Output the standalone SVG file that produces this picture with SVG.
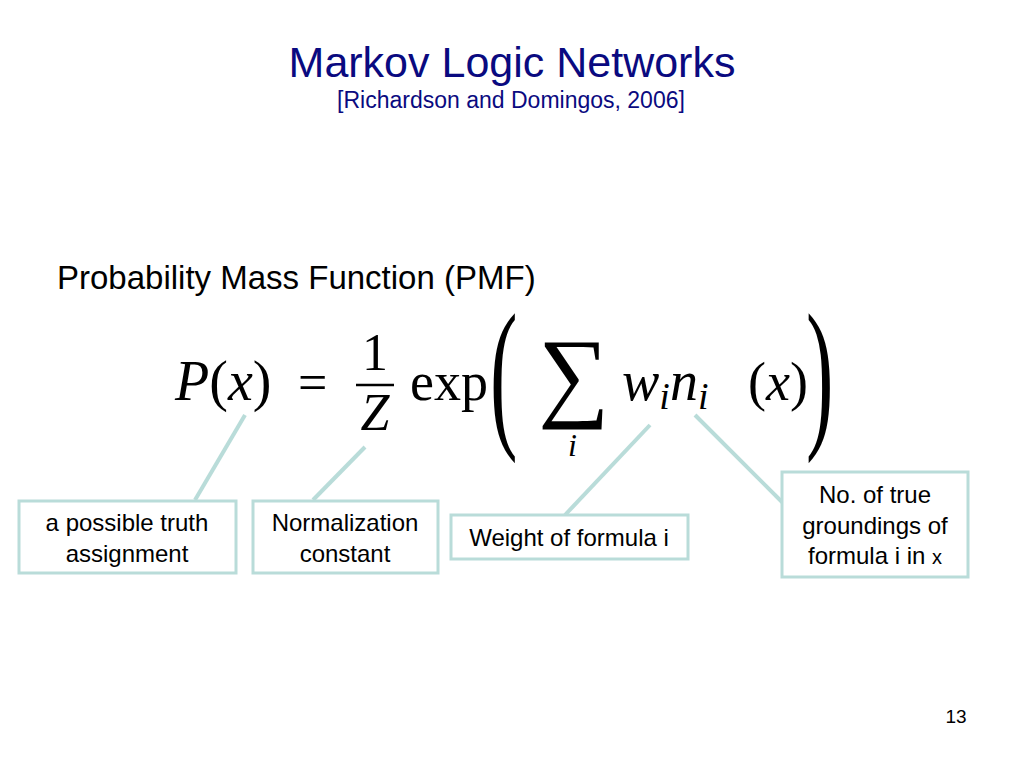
<svg xmlns="http://www.w3.org/2000/svg" width="1024" height="768" viewBox="0 0 1024 768">
<style>
.s{font-family:"Liberation Sans",Arial,sans-serif}
.m{font-family:"Liberation Serif","DejaVu Serif",serif}
.b{fill:#fff;stroke:#b9dcd9;stroke-width:3}
.t{font-size:24px;fill:#000;text-anchor:middle}
.c{stroke:#b9dcd9;stroke-width:4;fill:none}
</style>
<rect width="1024" height="768" fill="#fff"/>
<text class="s" x="512" y="77" font-size="43" fill="#0a0a80" text-anchor="middle">Markov Logic Networks</text>
<text class="s" x="511" y="108" font-size="23" fill="#0a0a80" text-anchor="middle">[Richardson and Domingos, 2006]</text>
<text class="s" x="57" y="289" font-size="33">Probability Mass Function (PMF)</text>
<g id="formula" class="m" fill="#000">
<text x="175" y="400" font-size="56"><tspan font-style="italic">P</tspan>(<tspan font-style="italic">x</tspan>)</text>
<text x="298" y="400" font-size="52">=</text>
<text x="375" y="370" font-size="52" text-anchor="middle">1</text>
<line x1="356" y1="385" x2="394" y2="385" stroke="#000" stroke-width="2.5"/>
<text x="375" y="430" font-size="52" text-anchor="middle" font-style="italic">Z</text>
<text x="410" y="400" font-size="54">exp</text>
<text transform="translate(490,428) scale(0.5,1)" font-size="165">(</text>
<text x="538" y="408" font-size="100">∑</text>
<text x="568" y="456" font-size="32" font-style="italic">i</text>
<text x="622" y="400" font-size="56" font-style="italic">w<tspan font-size="38" dy="9">i</tspan><tspan dy="-9" font-size="56">n</tspan><tspan font-size="38" dy="9">i</tspan></text>
<text x="748" y="400" font-size="54">(<tspan font-style="italic">x</tspan>)</text>
<text transform="translate(806,428) scale(0.5,1)" font-size="165">)</text>
</g>
<g id="connectors">
<line class="c" x1="245" y1="415" x2="195" y2="500"/>
<line class="c" x1="365" y1="447" x2="313" y2="500"/>
<line class="c" x1="650" y1="425" x2="565" y2="515"/>
<line class="c" x1="695" y1="415" x2="785" y2="505"/>
</g>
<g id="n1"><rect class="b" x="19" y="501" width="217" height="72"/><text class="s t" x="127" y="531">a possible truth</text><text class="s t" x="127" y="562">assignment</text></g>
<g id="n2"><rect class="b" x="253" y="501" width="185" height="72"/><text class="s t" x="345" y="531">Normalization</text><text class="s t" x="345" y="562">constant</text></g>
<g id="n3"><rect class="b" x="451" y="515" width="237" height="44"/><text class="s t" x="569" y="546">Weight of formula i</text></g>
<g id="n4"><rect class="b" x="782" y="472" width="186" height="105"/><text class="s t" x="875" y="503">No. of true</text><text class="s t" x="875" y="534">groundings of</text><text class="s t" x="875" y="564">formula i in <tspan font-size="20">x</tspan></text></g>
<text class="s" x="956" y="723" font-size="19" text-anchor="middle">13</text>
</svg>
